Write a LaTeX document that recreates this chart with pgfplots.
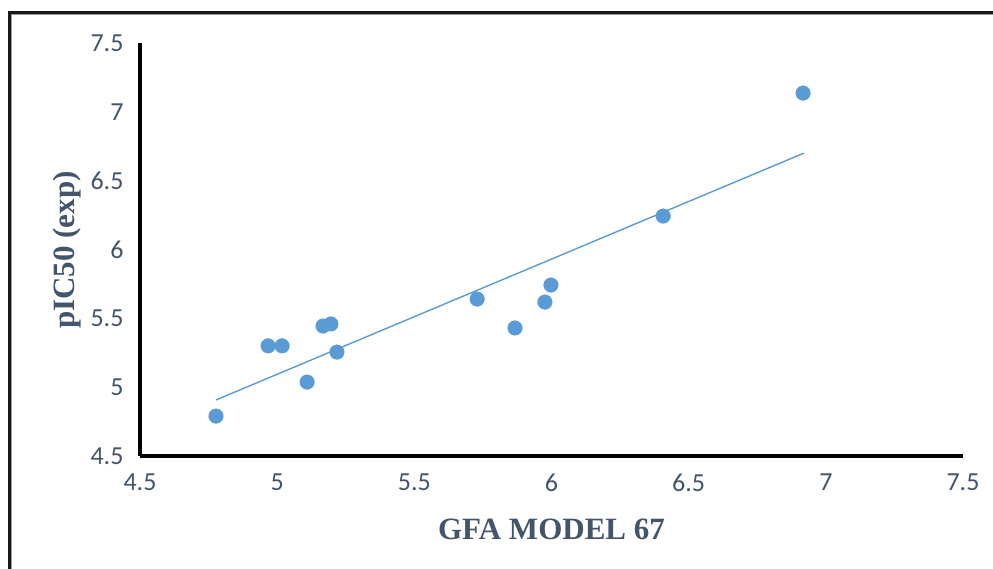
\documentclass[border=0pt]{standalone}
\usepackage{pgfplots}
\pgfplotsset{compat=1.18}
\usepackage{fontspec}
\setmainfont{Carlito}
\newfontfamily\timesf{Liberation Serif}
\definecolor{txt}{HTML}{44546A}
\definecolor{ptc}{HTML}{5B9BD5}
\begin{document}
\begin{tikzpicture}[x=1pt,y=1pt]
\path[use as bounding box] (0,0) rectangle (993,569);
\draw[line width=1pt,black!40] (11,0) -- (11,554.2) -- (993,554.2);
\draw[line width=3pt,black!90] (9,0) -- (9,556) -- (993,556);
\begin{axis}[
  at={(140pt,113pt)}, anchor=south west,
  scale only axis, width=823pt, height=413pt,
  xmin=4.5, xmax=7.5, ymin=4.5, ymax=7.5,
  xtick={4.5,5,5.5,6,6.5,7,7.5},
  ytick={4.5,5,5.5,6,6.5,7,7.5},
  axis x line*=bottom, axis y line*=left,
  axis line style={line width=3.5pt, black, -},
  major tick length=0pt,
  /pgf/number format/assume math mode=true,
  /pgf/number format/.cd, fixed, precision=1, /pgfplots/.cd,
  tick label style={font=\fontsize{26}{26}\selectfont, text=txt},
  xticklabel style={yshift=-14pt},
  yticklabel style={xshift=-13pt},
  clip=false,
]
\addplot[only marks, mark=*, mark size=7.3pt, mark options={draw=ptc, fill=ptc}] coordinates {
(4.777,4.79) (4.967,5.30) (5.018,5.30) (5.109,5.037) (5.167,5.444) (5.196,5.459)
(5.218,5.255) (5.729,5.640) (5.867,5.43) (5.976,5.618) (5.998,5.742) (6.407,6.243) (6.917,7.136)
};
\addplot[no marks, ptc, line width=1.4pt] coordinates {(4.777,4.907) (6.92,6.70)};
\end{axis}
\node[font=\timesf\bfseries\fontsize{31}{31}\selectfont, text=txt, anchor=base] at (551.5,29) {GFA MODEL 67};
\node[font=\timesf\bfseries\fontsize{31}{31}\selectfont, text=txt, rotate=90] at (67,319) {pIC50 (exp)};
\end{tikzpicture}
\end{document}
